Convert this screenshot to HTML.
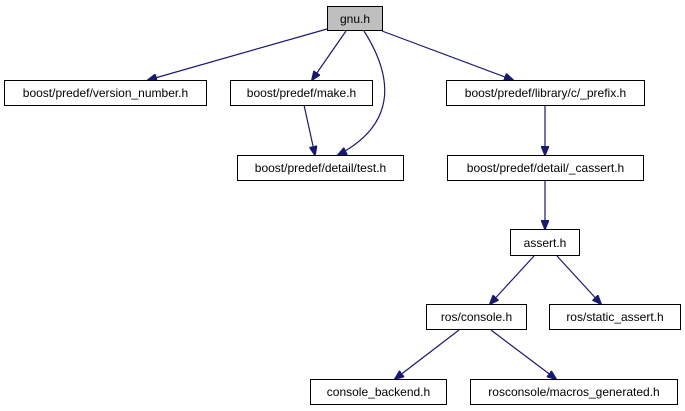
<!DOCTYPE html>
<html><head><style>body{margin:0;background:#fff}svg{display:block}</style></head><body>
<svg width="685" height="411" xmlns="http://www.w3.org/2000/svg" font-family="Liberation Sans, sans-serif" font-size="12">
<defs><marker id="a" markerWidth="10" markerHeight="8" refX="9" refY="4" orient="auto" markerUnits="userSpaceOnUse"><path d="M0,0 L10,4 L0,8 z" fill="#191970" stroke="#191970"/></marker></defs>
<g stroke="#191970" stroke-width="1.2" fill="none" marker-end="url(#a)">
<line x1="327" y1="29" x2="148" y2="80"/>
<line x1="346" y1="31" x2="312" y2="80"/>
<path d="M364,31 C395,80 395,125 338,155"/>
<line x1="382" y1="31" x2="513" y2="80"/>
<line x1="304" y1="105" x2="315" y2="155"/>
<line x1="545" y1="105" x2="545" y2="155"/>
<line x1="545" y1="180" x2="545" y2="229"/>
<line x1="534" y1="256" x2="490" y2="304"/>
<line x1="557" y1="256" x2="601" y2="304"/>
<line x1="459" y1="330" x2="395" y2="379"/>
<line x1="491" y1="330" x2="556" y2="379"/>
</g>
<g stroke="#000" stroke-width="1">
<rect x="327.5" y="6.5" width="55" height="24" fill="#bfbfbf"/>
<rect x="4.5" y="80.5" width="202" height="25" fill="#fff"/>
<rect x="230.5" y="80.5" width="142" height="25" fill="#fff"/>
<rect x="446.5" y="80.5" width="198" height="25" fill="#fff"/>
<rect x="237.5" y="155.5" width="166" height="25" fill="#fff"/>
<rect x="447.5" y="155.5" width="196" height="25" fill="#fff"/>
<rect x="510.5" y="229.5" width="69" height="26" fill="#fff"/>
<rect x="426.5" y="304.5" width="100" height="25" fill="#fff"/>
<rect x="549.5" y="304.5" width="131" height="25" fill="#fff"/>
<rect x="310.5" y="379.5" width="136" height="25" fill="#fff"/>
<rect x="470.5" y="379.5" width="207" height="25" fill="#fff"/>
</g>
<g fill="#000" text-anchor="middle">
<text x="355" y="23">gnu.h</text>
<text x="105.5" y="97">boost/predef/version_number.h</text>
<text x="301.5" y="97">boost/predef/make.h</text>
<text x="545.5" y="97">boost/predef/library/c/_prefix.h</text>
<text x="320.5" y="172">boost/predef/detail/test.h</text>
<text x="545.5" y="172">boost/predef/detail/_cassert.h</text>
<text x="545" y="247">assert.h</text>
<text x="476.5" y="321">ros/console.h</text>
<text x="615" y="321">ros/static_assert.h</text>
<text x="378.5" y="396">console_backend.h</text>
<text x="574" y="396">rosconsole/macros_generated.h</text>
</g>
</svg>
</body></html>
